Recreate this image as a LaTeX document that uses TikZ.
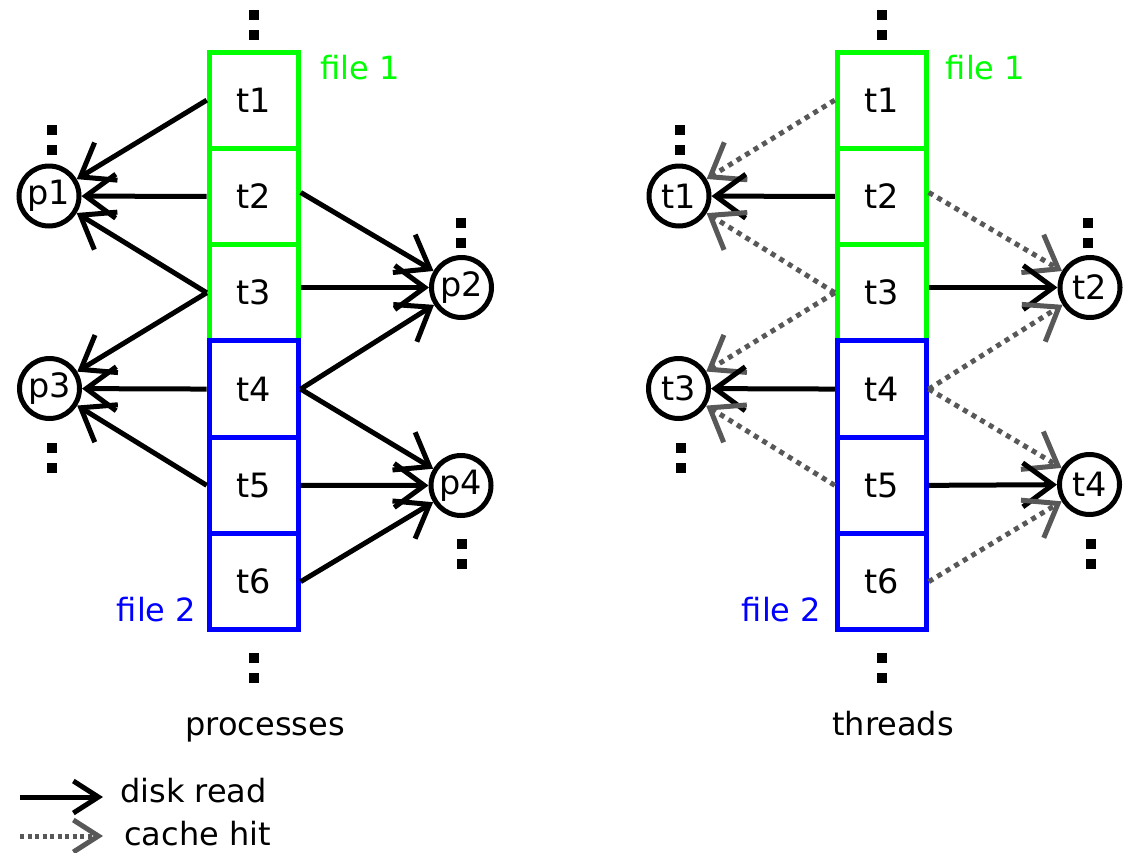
\documentclass[tikz,border=0pt]{standalone}
\usepackage{fontspec}
\setmainfont{DejaVu Sans}
\usetikzlibrary{arrows.meta}
\definecolor{fgreen}{RGB}{0,255,0}
\definecolor{fblue}{RGB}{0,0,255}
\definecolor{cachegray}{RGB}{88,88,88}
\newcommand\lbl{\fontsize{32}{38}\selectfont}
\newcommand\nlbl{\fontsize{33.5}{40}\selectfont}
\newcommand\vdotsq[2]{\fill (#1-5,#2) rectangle ++(10,10); \fill (#1-5,#2+20) rectangle ++(10,10);}
\begin{document}
\begin{tikzpicture}[x=1pt,y=-1pt,
  filebox/.style={draw,line width=5pt,minimum width=89pt,minimum height=96.3pt,inner sep=0pt,font=\nlbl},
  procnode/.style={circle,draw,line width=5pt,minimum size=60pt,inner sep=0pt,font=\nlbl},
  rd/.style={line width=5pt,-{Straight Barb[length=30pt,width=44pt]}},
  ch/.style={line width=5pt,cachegray,dash pattern=on 5pt off 5pt,-{Straight Barb[length=30pt,width=44pt]}},
  txt/.style={font=\lbl,inner sep=0pt}]
\useasboundingbox (0,0) rectangle (1125,852);
\fill[white] (0,0) rectangle (1125,852);

% ---------- left: processes ----------
\foreach \i/\y in {1/100.15,2/196.45,3/292.75}
  \node[filebox,draw=fgreen] (L\i) at (253.7,\y) {t\i};
\foreach \i/\y in {4/389.05,5/485.35,6/581.65}
  \node[filebox,draw=fblue] (L\i) at (253.7,\y) {t\i};
\node[procnode] (p1) at (49,196) {p1};
\node[procnode] (p2) at (461.5,287.5) {p2};
\node[procnode] (p3) at (49.5,388.5) {p3};
\node[procnode] (p4) at (461,485.5) {p4};

\draw[rd] (L1.west) -- (p1);
\draw[rd] (L2.west) -- (p1);
\draw[rd] (L3.west) -- (p1);
\draw[rd] (L3.west) -- (p3);
\draw[rd] (L4.west) -- (p3);
\draw[rd] (L5.west) -- (p3);
\draw[rd] ([yshift=4pt]L2.east) -- (p2);
\draw[rd] (L3.east |- p2) -- (p2);
\draw[rd] (L4.east) -- (p2);
\draw[rd] (L4.east) -- (p4);
\draw[rd] (L5.east) -- (p4);
\draw[rd] (L6.east) -- (p4);

\node[txt,text=fgreen] (f1l) at (360,67.5) {file 1};
\node[txt,text=fblue] (f2l) at (156.5,610) {file 2};
\node[txt,anchor=base] (proc) at (265,735) {processes};

\vdotsq{253.7}{10}
\vdotsq{253.7}{653}
\vdotsq{52}{125}
\vdotsq{52}{443}
\vdotsq{460.5}{218}
\vdotsq{462}{539}

% ---------- right: threads ----------
\foreach \i/\y in {1/100.15,2/196.45,3/292.75}
  \node[filebox,draw=fgreen] (R\i) at (881.75,\y) {t\i};
\foreach \i/\y in {4/389.05,5/485.35,6/581.65}
  \node[filebox,draw=fblue] (R\i) at (881.75,\y) {t\i};
\node[procnode] (q1) at (679,196) {t1};
\node[procnode] (q2) at (1090,287.5) {t2};
\node[procnode] (q3) at (678.5,388.5) {t3};
\node[procnode] (q4) at (1089.5,484.5) {t4};

\draw[ch] (R1.west) -- (q1);
\draw[rd] (R2.west) -- (q1);
\draw[ch] (R3.west) -- (q1);
\draw[ch] (R3.west) -- (q3);
\draw[rd] (R4.west) -- (q3);
\draw[ch] (R5.west) -- (q3);
\draw[ch] ([yshift=4pt]R2.east) -- (q2);
\draw[rd] (R3.east |- q2) -- (q2);
\draw[ch] (R4.east) -- (q2);
\draw[ch] (R4.east) -- (q4);
\draw[rd] (R5.east) -- (q4);
\draw[ch] (R6.east) -- (q4);

\node[txt,text=fgreen] (f1r) at (985.5,67.5) {file 1};
\node[txt,text=fblue] (f2r) at (781.5,610) {file 2};
\node[txt,anchor=base] (thr) at (893,735) {threads};

\vdotsq{882}{10}
\vdotsq{882}{653}
\vdotsq{679.5}{125}
\vdotsq{680.5}{443}
\vdotsq{1088}{218}
\vdotsq{1090.5}{539}

% ---------- legend ----------
\coordinate (la) at (20,797);
\coordinate (lb) at (103,797);
\coordinate (lc) at (20,836);
\coordinate (ld) at (103,836);
\draw[line width=5pt,-{Straight Barb[length=25pt,width=32pt]}] (la) -- (lb);
\draw[line width=5pt,cachegray,dash pattern=on 4pt off 3.5pt,-{Straight Barb[length=25pt,width=32pt]}] (lc) -- (ld);
\node[txt,anchor=base west] (dr) at (120,802) {disk read};
\node[txt,anchor=base west] (chit) at (124,845) {cache hit};
\end{tikzpicture}
\end{document}
